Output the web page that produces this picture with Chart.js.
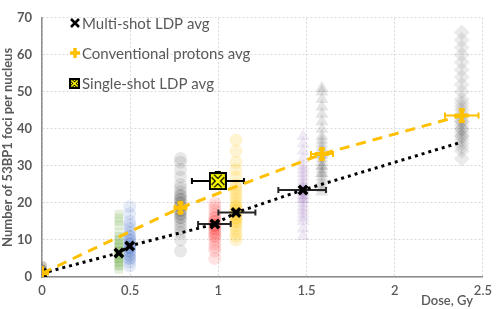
<!DOCTYPE html>
<html>
<head>
<meta charset="utf-8">
<script src="https://cdn.jsdelivr.net/npm/chart.js@4/dist/chart.umd.min.js"></script>
<style>
  html, body { margin: 0; padding: 0; background: #fff; }
  #wrap { width: 498px; height: 309px; }
</style>
</head>
<body>
<div id="wrap"><canvas id="chart" width="498" height="309"></canvas></div>
<script>
// averages
const msDose = [0, 0.436, 0.497, 0.98, 1.1, 1.48, 2.37];
const msFoci = [1, 6.5, 8.4, 14.3, 17.4, 23.5, 36.3];
const msDoseLo = [null, null, null, 0.885, 1.0, 1.34, null];
const msDoseHi = [null, null, null, 1.07, 1.21, 1.61, null];

const cpDose = [0, 0.785, 1.587, 2.38];
const cpFoci = [1, 18.7, 33.2, 43.6];
const cpDoseLo = [null, 0.755, 1.525, 2.285];
const cpDoseHi = [null, 0.815, 1.65, 2.475];
const cpFociLo = [null, 17.4, 31.8, 42];
const cpFociHi = [null, 20, 34.6, 45.2];

const ssDose = [0.997];
const ssFoci = [25.9];
const ssDoseLo = [0.85];
const ssDoseHi = [1.145];
const ssFociLo = [24.2];
const ssFociHi = [28.2];

// per-nucleus counts (clouds)
const cloud0 = [0, 0, 1, 1, 1, 2, 2, 3, 0, 1, 2, 1, 0, 3, 2];
const cloudGreen = [2, 3, 3, 4, 4, 5, 5, 5, 6, 6, 6, 7, 7, 7, 8, 8, 9, 9, 10, 10, 11, 12, 14, 15, 16, 17];
const cloudBlue = [3, 4, 5, 5, 6, 6, 7, 7, 8, 8, 8, 9, 9, 10, 10, 11, 11, 12, 13, 14, 15, 17, 19];
const cloudGray08 = [7, 10, 12, 13, 14, 15, 16, 16, 17, 17, 18, 18, 19, 19, 20, 20, 21, 21, 22, 22, 23, 24, 25, 27, 29, 31, 32];
const cloudRed = [5, 7, 8, 9, 10, 11, 11, 12, 12, 13, 13, 14, 14, 14, 15, 15, 16, 16, 17, 18, 19, 20];
const cloudYellow = [10, 11, 12, 13, 14, 15, 15, 16, 16, 17, 17, 18, 18, 19, 19, 20, 21, 22, 23, 24, 25, 27, 29, 31, 34, 37];
const cloudPurple = [11, 13, 15, 16, 17, 18, 19, 20, 21, 21, 22, 22, 23, 23, 24, 24, 25, 26, 27, 28, 29, 30, 32, 34, 36, 38];
const cloudGray16 = [23, 24, 25, 26, 27, 28, 28, 29, 30, 30, 31, 32, 33, 33, 34, 35, 36, 37, 38, 40, 42, 44, 46, 48, 50, 51];
const cloudGray24 = [32, 34, 35, 36, 37, 38, 38, 39, 40, 40, 41, 42, 42, 43, 44, 45, 46, 47, 48, 50, 52, 54, 56, 58, 60, 62, 64, 66];

const legendLabels = ["Multi-shot LDP avg", "Conventional protons avg", "Single-shot LDP avg"];

const ORANGE = "#FFC000";
const TXT = "#595959";
const FONT = "Lato, 'Open Sans', sans-serif";

function pts(x, ys) { return ys.map(y => ({ x, y })); }
function pairs(xs, ys) { return xs.map((x, i) => ({ x, y: ys[i] })); }

// yellow box with X marker
function boxMarker(size) {
  const c = document.createElement("canvas");
  c.width = size; c.height = size;
  const g = c.getContext("2d");
  g.fillStyle = "#000";
  g.fillRect(0, 0, size, size);
  g.fillStyle = "#FFFF00";
  g.fillRect(2, 2, size - 4, size - 4);
  const p = size * 0.22;
  g.lineCap = "butt";
  g.strokeStyle = "#000";
  g.lineWidth = size * 0.28;
  g.beginPath();
  g.moveTo(p, p); g.lineTo(size - p, size - p);
  g.moveTo(size - p, p); g.lineTo(p, size - p);
  g.stroke();
  g.strokeStyle = "#FFFF00";
  g.lineWidth = size * 0.14;
  g.beginPath();
  g.moveTo(p, p); g.lineTo(size - p, size - p);
  g.moveTo(size - p, p); g.lineTo(p, size - p);
  g.stroke();
  return c;
}

function cloud(x, ys, color, style, r) {
  return {
    type: "scatter",
    data: pts(x, ys),
    pointStyle: style,
    pointRadius: r,
    pointBackgroundColor: color,
    pointBorderWidth: 0,
    borderColor: "transparent",
    order: 10
  };
}

const errorBars = {
  id: "errorBars",
  beforeDatasetDraw(chart, args) {
    if (args.index !== 9) return;
    const xs = chart.scales.x, ys = chart.scales.y, ctx = chart.ctx;
    const sets = [
      { d: msDose, f: msFoci, lo: msDoseLo, hi: msDoseHi, flo: [], fhi: [], c: "#262626" },
      { d: cpDose, f: cpFoci, lo: cpDoseLo, hi: cpDoseHi, flo: cpFociLo, fhi: cpFociHi, c: ORANGE },
      { d: ssDose, f: ssFoci, lo: ssDoseLo, hi: ssDoseHi, flo: ssFociLo, fhi: ssFociHi, c: "#000" }
    ];
    ctx.save();
    ctx.lineWidth = 2;
    sets.forEach(s => {
      ctx.strokeStyle = s.c;
      s.d.forEach((d, i) => {
        const py = ys.getPixelForValue(s.f[i]);
        const px = xs.getPixelForValue(d);
        if (s.lo[i] != null) {
          const a = xs.getPixelForValue(s.lo[i]), b = xs.getPixelForValue(s.hi[i]);
          ctx.beginPath();
          ctx.moveTo(a, py); ctx.lineTo(b, py);
          ctx.moveTo(a, py - 3); ctx.lineTo(a, py + 3);
          ctx.moveTo(b, py - 3); ctx.lineTo(b, py + 3);
          ctx.stroke();
        }
        if (s.flo[i] != null) {
          const a = ys.getPixelForValue(s.flo[i]), b = ys.getPixelForValue(s.fhi[i]);
          ctx.lineWidth = 3;
          ctx.beginPath();
          ctx.moveTo(px, a); ctx.lineTo(px, b);
          ctx.moveTo(px - 3, a); ctx.lineTo(px + 3, a);
          ctx.moveTo(px - 3, b); ctx.lineTo(px + 3, b);
          ctx.stroke();
          ctx.lineWidth = 2;
        }
      });
    });
    ctx.restore();
  }
};

const legendAndTitle = {
  id: "legendAndTitle",
  afterDraw(chart) {
    const ctx = chart.ctx;
    ctx.save();
    ctx.font = "15px " + FONT;
    ctx.fillStyle = TXT;
    ctx.textBaseline = "middle";
    const lx = 75, rows = [23, 53, 83];
    legendLabels.forEach((t, i) => ctx.fillText(t, lx + 7, rows[i] + 1));
    // icons
    ctx.strokeStyle = "#000"; ctx.lineWidth = 2.5;
    ctx.beginPath();
    ctx.moveTo(lx - 4, rows[0] - 4); ctx.lineTo(lx + 4, rows[0] + 4);
    ctx.moveTo(lx + 4, rows[0] - 4); ctx.lineTo(lx - 4, rows[0] + 4);
    ctx.stroke();
    ctx.strokeStyle = ORANGE; ctx.lineWidth = 3.5;
    ctx.beginPath();
    ctx.moveTo(lx - 5, rows[1]); ctx.lineTo(lx + 5, rows[1]);
    ctx.moveTo(lx, rows[1] - 5); ctx.lineTo(lx, rows[1] + 5);
    ctx.stroke();
    ctx.drawImage(boxMarker(11), lx - 6, rows[2] - 5);
    // x title
    ctx.font = "600 13px " + FONT;
    ctx.textAlign = "center";
    ctx.fillText("Dose, Gy", 447, 301);
    ctx.restore();
  }
};

new Chart(document.getElementById("chart"), {
  data: {
    datasets: [
      cloud(0, cloud0, "rgba(120,105,85,0.2)", "circle", 5),
      cloud(0.436, cloudGreen, "rgba(112,173,71,0.18)", "rect", 6),
      cloud(0.497, cloudBlue, "rgba(68,114,196,0.14)", "circle", 6.5),
      cloud(0.785, cloudGray08, "rgba(0,0,0,0.09)", "circle", 6.5),
      cloud(0.98, cloudRed, "rgba(255,0,0,0.11)", "circle", 6.5),
      cloud(1.1, cloudYellow, "rgba(255,192,0,0.18)", "circle", 6.5),
      cloud(1.48, cloudPurple, "rgba(112,48,160,0.1)", "triangle", 7.5),
      cloud(1.587, cloudGray16, "rgba(0,0,0,0.1)", "triangle", 7.5),
      cloud(2.38, cloudGray24, "rgba(0,0,0,0.08)", "rectRot", 8),
      {
        type: "line",
        label: legendLabels[0],
        data: pairs(msDose, msFoci),
        borderColor: "#000",
        borderWidth: 3,
        borderDash: [3, 4],
        fill: false,
        tension: 0,
        pointStyle: "crossRot",
        pointRadius: msDose.map((d, i) => i === msDose.length - 1 ? 0 : 6),
        pointBorderColor: "#000",
        pointBorderWidth: 3.5,
        order: 4
      },
      {
        type: "line",
        label: legendLabels[1],
        data: pairs(cpDose, cpFoci),
        borderColor: ORANGE,
        borderWidth: 3,
        borderDash: [10, 7],
        fill: false,
        tension: 0,
        pointStyle: "cross",
        pointRadius: 7,
        pointBorderColor: ORANGE,
        pointBorderWidth: 4,
        order: 3
      },
      {
        type: "scatter",
        label: legendLabels[2],
        data: pairs(ssDose, ssFoci),
        pointStyle: boxMarker(18),
        order: 1
      }
    ]
  },
  options: {
    responsive: false,
    animation: false,
    layout: { padding: { top: 0, right: 0, left: 0, bottom: 0 } },
    plugins: { legend: { display: false }, tooltip: { enabled: false } },
    scales: {
      x: {
        type: "linear",
        min: 0, max: 2.5,
        ticks: {
          stepSize: 0.5, color: TXT, font: { family: FONT, size: 13, weight: "600" }, padding: 6,
          callback: v => String(Math.round(v * 10) / 10)
        },
        grid: { color: "#d9d9d9", drawTicks: false },
        border: { color: "#8c8c8c", width: 1.5, dash: [2, 2] },
        afterFit: s => { s.height = 32; }
      },
      y: {
        min: 0, max: 70,
        ticks: { stepSize: 10, color: TXT, font: { family: FONT, size: 13, weight: "bold" }, padding: 10 },
        grid: { color: "#d9d9d9", drawTicks: false },
        border: { color: "#8c8c8c", width: 1.5, dash: [2, 2] },
        title: { display: true, text: "Number of 53BP1 foci per nucleus", color: TXT, font: { family: FONT, size: 13, weight: "bold" }, padding: 0 },
        afterFit: s => { s.width = 42; }
      }
    }
  },
  plugins: [errorBars, legendAndTitle]
});
</script>
</body>
</html>
